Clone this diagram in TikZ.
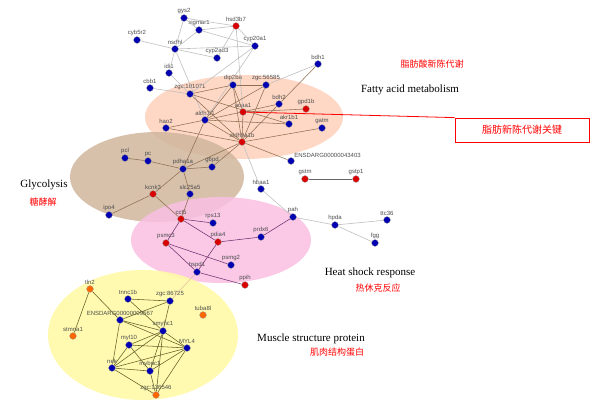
\documentclass[tikz,border=0pt]{standalone}
\usepackage{fontspec}
\setmainfont{Liberation Serif}
\newfontfamily\lsans{Liberation Sans}
\newfontfamily\cjk{Noto Sans CJK SC}
\begin{document}
\begin{tikzpicture}[x=1pt,y=-1pt,
 lf/.style={font=\lsans\fontsize{6}{6}\selectfont,text=black!70,inner sep=0.5pt},
 b/.style={circle,inner sep=0pt,minimum size=7pt,label={[lf]above:#1}},
 r/.style={b=#1},
 o/.style={b=#1},
 eg/.style={draw=black!25,line width=0.6pt},
 eb/.style={draw=brown!60!black!80,line width=0.55pt},
 ep/.style={draw=violet!60!black!80,line width=0.55pt},
 ey/.style={draw=olive!60!black,line width=0.55pt},
 lab/.style={font=\fontsize{11}{13}\selectfont},
 cn/.style={font=\cjk\fontsize{9}{11}\selectfont,text=red}]
\useasboundingbox (0,0) rectangle (600,408);
\fill[orange!30!pink!60!white,opacity=0.8] (244,117) ellipse (99 and 42);
\fill[brown!45!white!92!black,opacity=0.85] (157,177) ellipse (87 and 45);
\fill[magenta!25!white,opacity=0.85] (221,240) ellipse (90 and 43);
\fill[yellow!35!white,opacity=0.9] (143,335) ellipse (95 and 65);
% nodes
\node[b=gys2] (gys2) at (184,18) {};
\node[b=sigmar1] (sig) at (199,30) {};
\node[r=hsd3b7] (hsd) at (236,26) {};
\node[b=cyb5r2] (cyb) at (137,40) {};
\node[b=nsdhl] (nsd) at (175,49) {};
\node[b=cyp20a1] (c20) at (255,46) {};
\node[b=cyp2ad3] (c2a) at (217,58) {};
\node[b=bdh1] (bdh1) at (318,64) {};
\node[b=idi1] (idi) at (169,73) {};
\node[b=cbb1] (cbb) at (150,88) {};
\node[b=zgc:101071] (z10) at (190,94) {};
\node[b=dip2ba] (dip) at (233,85) {};
\node[b=zgc:56585] (z56) at (266,85) {};
\node[b=bdh2] (bdh2) at (279,104) {};
\node[r=acaa1] (aca) at (243,112) {};
\node[r=gpd1b] (gpd) at (306,109) {};
\node[b=aldh1l1] (al1) at (205,120) {};
\node[b=hao2] (hao) at (166,128) {};
\node[b=akr1b1] (akr) at (289,124) {};
\node[b=gatm] (gat) at (322,128) {};
\node[r=aldh9a1b] (al9) at (242,142) {};
\node[circle,inner sep=0pt,minimum size=7pt,label={[lf]above right:ENSDARG00000043403}] (e43) at (291,161) {};
\node[b=pcl] (pcl) at (125,158) {};
\node[b=pc] (pc) at (148,161) {};
\node[b=pdha1a] (pdh) at (183,169) {};
\node[b=g6pd] (g6p) at (212,167) {};
\node[r=gstm] (gstm) at (305,179) {};
\node[r=gstp1] (gstp) at (356,179) {};
\node[b=hbaa1] (hba) at (261,189) {};
\node[r=kcnk3] (kcn) at (153,194) {};
\node[b=slc25a5] (slc) at (190,194) {};
\node[b=ipo4] (ipo) at (109,215) {};
\node[r=cct5] (cct) at (181,219) {};
\node[b=rps13] (rps) at (213,223) {};
\node[b=pah] (pah) at (293,217) {};
\node[b=hpda] (hpd) at (335,225) {};
\node[b=ttc36] (ttc) at (387,220) {};
\node[b=fgg] (fgg) at (375,243) {};
\node[r=psmc3] (psm) at (166,243) {};
\node[r=pdia4] (pdi) at (218,242) {};
\node[b=prdx6] (prd) at (261,237) {};
\node[b=psmg2] (pg2) at (231,265) {};
\node[b=hspd1] (hsp) at (197,272) {};
\node[r=ppih] (ppi) at (245,285) {};
\node[o=tln2] (tln) at (90,289) {};
\node[b=tnnc1b] (tnn) at (128,299) {};
\node[b=zgc:86725] (z86) at (170,301) {};
\node[o=tuba8l] (tub) at (203,315) {};
\node[b=ENSDARG00000009567] (e95) at (120,320) {};
\node[b=smyhc1] (smy) at (163,331) {};
\node[o=stmna1] (stm) at (73,336) {};
\node[b=myl10] (m10) at (129,345) {};
\node[b=MYL4] (ml4) at (187,348) {};
\node[b=nek] (nek) at (112,368) {};
\node[b=mybpc1] (myb) at (150,371) {};
\node[o=zgc:136546] (z13) at (156,395) {};
% edges
\foreach \a/\c in {gys2/sig,gys2/hsd,sig/hsd,sig/nsd,sig/c20,hsd/c20,hsd/c2a,hsd/aca,cyb/nsd,nsd/c20,nsd/c2a,nsd/idi,nsd/al1,nsd/gys2,c20/al1,c20/z10,idi/z10,cbb/z10,bdh1/z56,hba/al9,hba/pah,pah/hpd,hpd/ttc,hpd/fgg}
 \draw[eg] (\a)--(\c);
\draw[eg,draw=black!60,line width=0.8pt] (gstm)--(gstp);
\foreach \a/\c in {bdh1/bdh2,dip/z56,dip/al1,dip/aca,dip/al9,z10/al9,z10/dip,z10/akr,z56/al1,z56/al9,bdh2/al1,aca/gpd,aca/al9,al1/hao,al1/akr,al1/al9,al1/pdh,al9/gat,al9/hao,al9/e43,al9/pdh,al9/g6p,al9/bdh2,pcl/pc,pc/pdh,pdh/g6p,pdh/slc,pdh/kcn,kcn/ipo,kcn/cct,slc/cct}
 \draw[eb] (\a)--(\c);
\foreach \a/\c in {cct/rps,cct/psm,cct/pdi,pdi/prd,pdi/hsp,psm/pg2,psm/hsp,hsp/ppi,prd/pah}
 \draw[ep] (\a)--(\c);
\draw[eb,draw=brown!50] (hsp)--(z86);
\foreach \a/\c in {tln/stm,tln/e95,tnn/z86,tnn/smy,z86/e95,z86/smy,e95/smy,e95/nek,e95/ml4,smy/ml4,smy/m10,smy/nek,smy/myb,smy/z13,m10/ml4,m10/nek,m10/myb,ml4/nek,ml4/myb,ml4/z13,nek/myb,nek/z13,myb/z13}
 \draw[ey] (\a)--(\c);
% node discs on top
\foreach \n in {gys2,sig,cyb,nsd,c20,c2a,bdh1,idi,cbb,z10,dip,z56,bdh2,al1,hao,akr,gat,e43,pcl,pc,pdh,g6p,hba,slc,ipo,rps,pah,hpd,ttc,fgg,prd,pg2,hsp,tnn,z86,e95,smy,m10,ml4,nek,myb}
 \fill[blue!70!black,draw=black!40,line width=0.3pt] (\n) circle (3.4);
\foreach \n in {hsd,aca,gpd,al9,gstm,gstp,kcn,cct,psm,pdi,ppi}
 \fill[red!85!black,draw=black!40,line width=0.3pt] (\n) circle (3.4);
\foreach \n in {tln,tub,stm,z13}
 \fill[orange!80!red,draw=black!40,line width=0.3pt] (\n) circle (3.4);
% labels
\node[lab] (fa) at (410,90) {Fatty acid metabolism};
\node[cn] (fac) at (432,64) {脂肪酸新陈代谢};
\node[draw=red,line width=0.8pt,text=red,minimum width=134pt,minimum height=24pt,font=\cjk\fontsize{10}{12}\selectfont] (key) at (522,130) {脂肪新陈代谢关键};
\draw[red,line width=0.8pt] (key.north west)--(aca);
\node[lab] (gl) at (44,185) {Glycolysis};
\node[cn] (glc) at (43,202) {糖酵解};
\node[lab] (hs) at (370,273) {Heat shock response};
\node[cn] (hsc) at (378,288) {热休克反应};
\node[lab] (ms) at (311,339) {Muscle structure protein};
\node[cn] (msc) at (337,352) {肌肉结构蛋白};
\end{tikzpicture}
\end{document}
